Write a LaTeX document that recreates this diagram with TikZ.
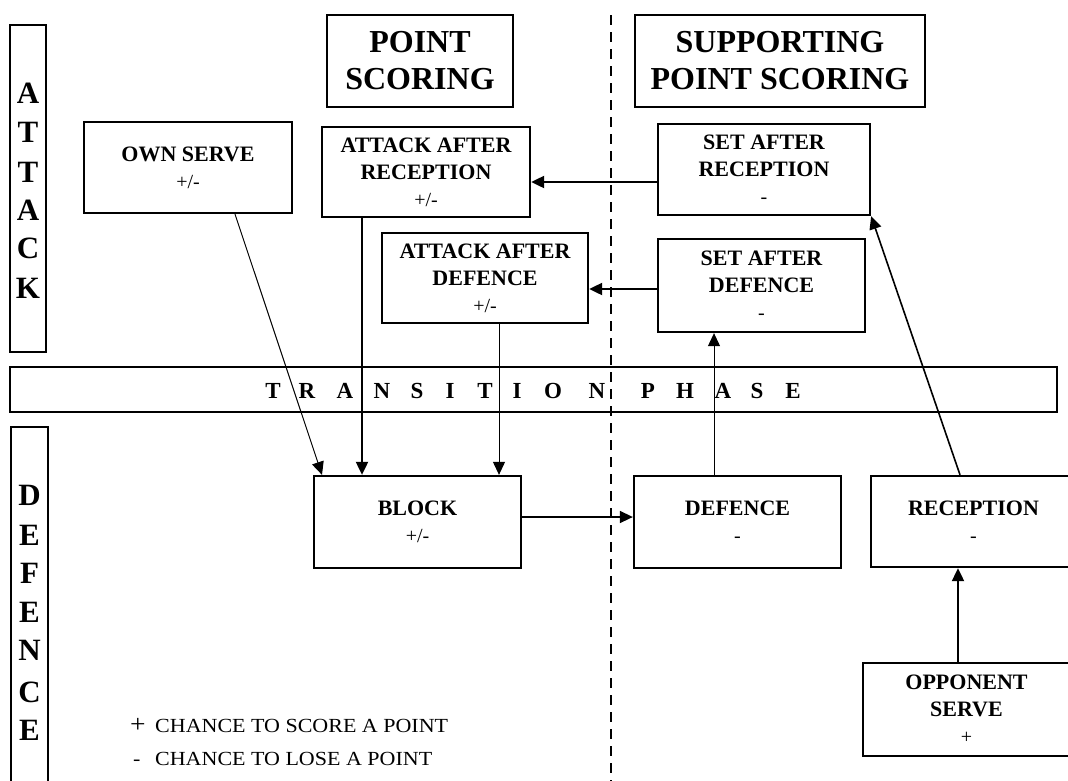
\documentclass[tikz,border=0pt]{standalone}
\usepackage{fontspec}
\setmainfont{Liberation Serif}
\newfontfamily\legendfont[FakeStretch=1.1]{Liberation Serif}
\usetikzlibrary{arrows.meta}
\newcommand\vsign[1]{{\mdseries\fontsize{20}{27}\selectfont #1}}
\tikzset{
  frame/.style={draw, line width=2.3pt, inner sep=0pt, align=center},
  box/.style={frame, font=\bfseries\fontsize{22}{27}\selectfont},
  titlebox/.style={frame, font=\bfseries\fontsize{32}{37}\selectfont},
  bigletter/.style={font=\bfseries\fontsize{31}{31}\selectfont, anchor=base, inner sep=0pt},
  trletter/.style={font=\bfseries\fontsize{23}{23}\selectfont, anchor=base, inner sep=0pt},
  legend/.style={font=\legendfont\fontsize{20}{24}\selectfont, anchor=base west, inner sep=0pt},
  conn/.style={-{Triangle[length=13pt,width=12pt]}},
  thickconn/.style={conn, line width=2pt},
  midconn/.style={conn, line width=1.6pt},
  thinconn/.style={conn, line width=1pt},
  divider/.style={line width=2pt, dash pattern=on 10pt off 7pt}
}
\begin{document}
\begin{tikzpicture}[x=1pt, y=-1pt]
\useasboundingbox (0,0) rectangle (1068,780);
\clip (0,0) rectangle (1068,780);
\fill[white] (0,0) rectangle (1068,780);

% side labels
\node[frame, minimum width=36pt, minimum height=327pt] (attbox) at (28,188.5) {};
\foreach \ch/\yy [count=\i] in {A/103,T/142,T/182,A/220,C/258,K/298}
  \node[bigletter] (att\i) at (28,\yy) {\ch};
\node[frame, minimum width=37pt, minimum height=373pt] (defbox) at (29.5,613.5) {};
\foreach \ch/\yy [count=\i] in {D/505,E/545,F/583,E/622,N/660,C/702,E/740}
  \node[bigletter] (dfl\i) at (29.5,\yy) {\ch};

% titles
\node[titlebox, minimum width=186pt, minimum height=92pt] (ps) at (420,61) {POINT\\SCORING};
\node[titlebox, minimum width=290pt, minimum height=92pt] (sps) at (780,61) {SUPPORTING\\POINT SCORING};

% attack row
\node[box, minimum width=208pt, minimum height=91pt] (os) at (188,167.5) {OWN SERVE\\\vsign{+/-}};
\node[box, minimum width=208pt, minimum height=90pt] (aar) at (426,172) {ATTACK AFTER\\RECEPTION\\\vsign{+/-}};
\node[box, minimum width=206pt, minimum height=90pt] (aad) at (485,278) {ATTACK AFTER\\DEFENCE\\\vsign{+/-}};
\node[box, minimum width=212pt, minimum height=91pt] (sar) at (764,169.5) {SET AFTER\\RECEPTION\\\vsign{-}};
\node[box, minimum width=207pt, minimum height=93pt] (sad) at (761.5,285.5) {SET AFTER\\DEFENCE\\\vsign{-}};

% transition
\node[frame, minimum width=1047pt, minimum height=45pt] (trans) at (533.5,389.5) {};
\foreach \ch/\xx [count=\i] in {T/273,R/307,A/345,N/382,S/417,I/450,T/485,I/517,O/553,N/597,P/648,H/685,A/723,S/757,E/793}
  \node[trletter] (tr\i) at (\xx,398) {\ch};

% defence row
\node[box, minimum width=207pt, minimum height=92pt] (block) at (417.5,522) {BLOCK\\\vsign{+/-}};
\node[box, minimum width=207pt, minimum height=92pt] (def) at (737.5,522) {DEFENCE\\\vsign{-}};
\node[box, minimum width=205pt, minimum height=91pt] (rec) at (973.5,521.5) {RECEPTION\\\vsign{-}};
\node[box, minimum width=207pt, minimum height=93pt] (opp) at (966.5,709.5) {OPPONENT\\SERVE\\\vsign{+}};

% legend
\node[legend] (leg1) at (130,732) {\makebox[25pt][l]{\fontsize{25}{24}\selectfont +}CHANCE TO SCORE A POINT};
\node[legend] (leg2) at (130,765) {\makebox[25pt][l]{\hspace{3pt}-}CHANCE TO LOSE A POINT};

% helper coordinates
\coordinate (xos) at (235,0);
\coordinate (xbl) at (322,0);
\coordinate (xaar) at (362,0);
\coordinate (xaad) at (499,0);
\coordinate (xdef) at (714,0);
\coordinate (xrec) at (960,0);
\coordinate (xopp) at (958,0);
\coordinate (ysar) at (0,182);
\coordinate (ysad) at (0,289);
\coordinate (yblk) at (0,517);
\coordinate (dtop) at (611,15);
\coordinate (dbot) at (611,790);

% divider
\draw[divider] (dtop) -- (dbot);

% connectors
\draw[thinconn] (os.south -| xos) -- (block.north -| xbl);
\draw[thickconn] (aar.south -| xaar) -- (block.north -| xaar);
\draw[thinconn] (aad.south -| xaad) -- (block.north -| xaad);
\draw[thickconn] (sar.west |- ysar) -- (aar.east |- ysar);
\draw[thickconn] (sad.west |- ysad) -- (aad.east |- ysad);
\draw[midconn] (block.east |- yblk) -- (def.west |- yblk);
\draw[thinconn] (def.north -| xdef) -- (sad.south -| xdef);
\draw[midconn] (rec.north -| xrec) -- (sar.south east);
\draw[thickconn] (opp.north -| xopp) -- (rec.south -| xopp);
\end{tikzpicture}
\end{document}
